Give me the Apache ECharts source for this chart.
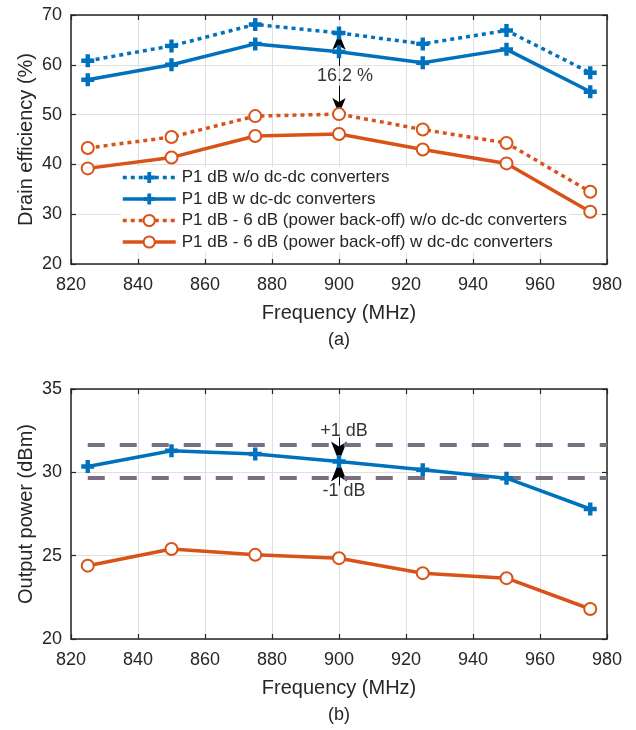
<!DOCTYPE html>
<html><head><meta charset="utf-8">
<script src="https://cdn.jsdelivr.net/npm/echarts@6/dist/echarts.min.js"></script>
<style>html,body{margin:0;padding:0;background:#fff}#c{width:636px;height:730px}</style>
</head><body><div id="c"></div>
<script>
// ---------- data ----------
const freq = [825, 850, 875, 900, 925, 950, 975];
const effP1NoConv = [60.8, 63.8, 68.1, 66.4, 64.2, 66.9, 58.4];
const effP1Conv   = [57.0, 60.0, 64.2, 62.6, 60.4, 63.1, 54.6];
const effBoNoConv = [43.3, 45.5, 49.7, 50.1, 47.0, 44.3, 34.5];
const effBoConv   = [39.2, 41.4, 45.7, 46.1, 43.0, 40.2, 30.5];
const powP1 = [30.35, 31.3, 31.1, 30.65, 30.15, 29.65, 27.8];
const powBo = [24.4, 25.4, 25.05, 24.85, 23.95, 23.65, 21.8];
const powBand = [31.65, 29.65];       // +1 dB / -1 dB limits
const xRange = [820, 980, 20];
const effRange = [20, 70, 10];
const powRange = [20, 35, 5];
const names = [
  'P1 dB w/o dc-dc converters',
  'P1 dB w dc-dc converters',
  'P1 dB - 6 dB (power back-off) w/o dc-dc converters',
  'P1 dB - 6 dB (power back-off) w dc-dc converters'
];
const effGapLabel = '16.2 %';
const effGapLabelY = 57.8;
const plusLabel = '+1 dB', minusLabel = '-1 dB';
const plusLabelY = 32.5, minusLabelY = 28.85;

// ---------- styles ----------
const BLUE = '#0072BD', ORANGE = '#D95319', AX = '#262626', GRID = '#dfdfdf', BAND = '#7d6d80';
const FONT = '"Liberation Sans", Arial, Helvetica, sans-serif';
const PLUS = 'path://M3.3,0H6.7V3.3H10V6.7H6.7V10H3.3V6.7H0V3.3H3.3Z';
const pairs = (ys) => freq.map((f, i) => [f, ys[i]]);

function xAx(grid, main) {
  return {
    type: 'value', gridIndex: grid, min: xRange[0], max: xRange[1], interval: xRange[2],
    position: main ? 'bottom' : 'top',
    name: main ? 'Frequency (MHz)' : '', nameLocation: 'middle', nameGap: 39,
    nameMoveOverlap: false,
    nameTextStyle: { fontFamily: FONT, fontSize: 20, color: AX },
    axisLine: { show: true, onZero: false, lineStyle: { color: AX, width: 1.5 } },
    axisTick: { show: true, inside: true, length: 5, lineStyle: { color: AX, width: 1.2 } },
    axisLabel: { show: main, fontFamily: FONT, fontSize: 18, color: AX, margin: 12 },
    splitLine: { show: main, lineStyle: { color: GRID, width: 1 } }
  };
}
function yAx(grid, main, range, name) {
  return {
    type: 'value', gridIndex: grid, min: range[0], max: range[1], interval: range[2],
    position: main ? 'left' : 'right',
    name: main ? name : '', nameLocation: 'middle', nameGap: 35, nameRotate: 90,
    nameMoveOverlap: false,
    nameTextStyle: { fontFamily: FONT, fontSize: 20, color: AX },
    axisLine: { show: true, onZero: false, lineStyle: { color: AX, width: 1.5 } },
    axisTick: { show: true, inside: true, length: 5, lineStyle: { color: AX, width: 1.2 } },
    axisLabel: { show: main, fontFamily: FONT, fontSize: 18, color: AX, margin: 9 },
    splitLine: { show: main, lineStyle: { color: GRID, width: 1 } }
  };
}
function lineSeries(name, xi, yi, data, color, dotted, plus) {
  return {
    name, type: 'line', xAxisIndex: xi, yAxisIndex: yi, data: pairs(data),
    symbol: plus ? PLUS : 'emptyCircle', symbolSize: plus ? 13 : 12,
    showAllSymbol: true,
    lineStyle: { color, width: 3.5, type: dotted ? [4, 4] : 'solid', cap: 'butt' },
    itemStyle: plus ? { color, borderWidth: 0 } : { color, borderColor: color, borderWidth: 3 },
    z: 5, silent: true
  };
}
const arrowLine = { color: '#000', width: 1, type: 'solid' };

const chart = echarts.init(document.getElementById('c'), null, { renderer: 'canvas' });
chart.setOption({
  animation: false,
  backgroundColor: '#fff',
  grid: [
    { left: 71, right: 29, top: 15, height: 249 },
    { left: 71, right: 29, top: 389, height: 250 }
  ],
  xAxis: [xAx(0, true), xAx(0, false), xAx(1, true), xAx(1, false)],
  yAxis: [yAx(0, true, effRange, 'Drain efficiency (%)'), yAx(0, false, effRange, ''),
          yAx(1, true, powRange, 'Output power (dBm)'), yAx(1, false, powRange, '')],
  legend: {
    orient: 'vertical', left: 121, top: 167, padding: [2, 2, 2, 0], itemGap: 4.5, z: 4,
    itemWidth: 53, itemHeight: 14, backgroundColor: '#fff', selectedMode: false,
    lineStyle: { width: 3.5 },
    textStyle: { fontFamily: FONT, fontSize: 17, color: AX, padding: [0, 0, 0, 1] },
    data: names
  },
  series: [
    Object.assign(lineSeries(names[0], 0, 0, effP1NoConv, BLUE, true, true), {
      markLine: {
        silent: true, symbol: ['arrow', 'arrow'], symbolSize: [10, 16],
        lineStyle: arrowLine, label: { show: false }, emphasis: { disabled: true },
        data: [[{ coord: [freq[3], effP1NoConv[3] - 0.15] }, { coord: [freq[3], effBoNoConv[3]] }]]
      }
    }),
    lineSeries(names[1], 0, 0, effP1Conv, BLUE, false, true),
    lineSeries(names[2], 0, 0, effBoNoConv, ORANGE, true, false),
    lineSeries(names[3], 0, 0, effBoConv, ORANGE, false, false),
    {
      type: 'scatter', xAxisIndex: 0, yAxisIndex: 0, symbolSize: 0, silent: true, z: 6,
      data: [[freq[3], effGapLabelY]],
      label: { show: true, position: 'inside', offset: [6, 0], formatter: effGapLabel,
        fontFamily: FONT, fontSize: 18, color: '#000', backgroundColor: '#fff', padding: [1, 1] }
    },
    Object.assign(lineSeries('p1pow', 2, 2, powP1, BLUE, false, true), {
      markLine: {
        silent: true, symbol: ['none', 'arrow'], symbolSize: [12, 20],
        lineStyle: arrowLine, label: { show: false }, emphasis: { disabled: true },
        data: [
          [{ coord: [freq[3], 32.1] }, { coord: [freq[3], powP1[3]] }],
          [{ coord: [freq[3], 29.2] }, { coord: [freq[3], powP1[3]] }]
        ]
      }
    }),
    lineSeries('bopow', 2, 2, powBo, ORANGE, false, false),
    {
      type: 'line', xAxisIndex: 2, yAxisIndex: 2, data: [], silent: true, z: 2,
      markLine: {
        silent: true, symbol: ['none', 'none'], label: { show: false }, emphasis: { disabled: true },
        lineStyle: { color: BAND, width: 4, type: [17, 15], cap: 'butt' },
        data: powBand.map(v => [{ coord: [freq[0], v] }, { coord: [xRange[1], v] }])
      }
    },
    {
      type: 'scatter', xAxisIndex: 2, yAxisIndex: 2, symbolSize: 0, silent: true, z: 6,
      data: [[freq[3], plusLabelY, plusLabel], [freq[3], minusLabelY, minusLabel]],
      label: { show: true, position: 'inside', offset: [5, 0], formatter: p => p.data[2],
        fontFamily: FONT, fontSize: 18, color: '#000' }
    }
  ],
  graphic: [
    { type: 'text', x: 339, y: 340, style: { text: '(a)', fontFamily: FONT, fontSize: 18, fill: AX, align: 'center', verticalAlign: 'middle' } },
    { type: 'text', x: 339, y: 715, style: { text: '(b)', fontFamily: FONT, fontSize: 18, fill: AX, align: 'center', verticalAlign: 'middle' } }
  ]
});
</script></body></html>
